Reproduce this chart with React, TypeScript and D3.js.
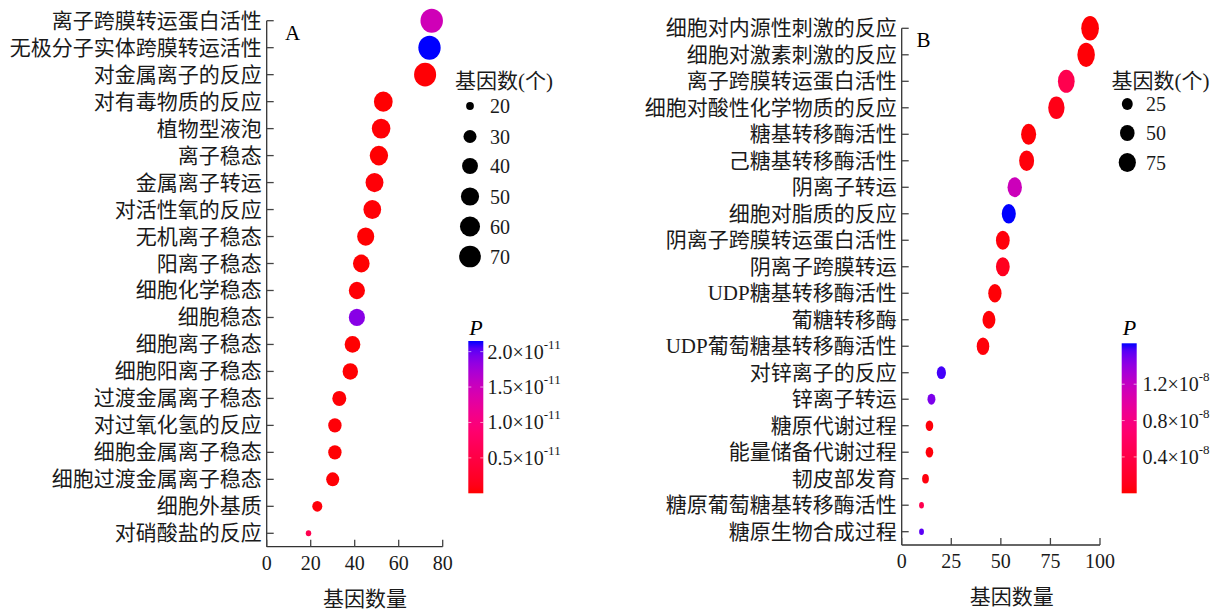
import React from 'react';
import * as d3 from 'd3';

// Panel A: GO terms, gene counts, P (x1e-11)
const termsA = [
  '离子跨膜转运蛋白活性', '无极分子实体跨膜转运活性', '对金属离子的反应', '对有毒物质的反应',
  '植物型液泡', '离子稳态', '金属离子转运', '对活性氧的反应', '无机离子稳态', '阳离子稳态',
  '细胞化学稳态', '细胞稳态', '细胞离子稳态', '细胞阳离子稳态', '过渡金属离子稳态',
  '对过氧化氢的反应', '细胞金属离子稳态', '细胞过渡金属离子稳态', '细胞外基质', '对硝酸盐的反应',
];
const countsA = [75, 74, 72, 53, 52, 51, 49, 48, 45, 43, 41, 41, 39, 38, 33, 31, 31, 30, 23, 19];
const pA = [1.47, 2.15, 0.02, 0.01, 0.02, 0.01, 0.03, 0.02, 0.01, 0.01, 0.02, 1.88, 0.01, 0.01, 0.02, 0.03, 0.01, 0.02, 0.04, 0.6];
const xTicksA = [0, 20, 40, 60, 80];
const sizeLegendA = [20, 30, 40, 50, 60, 70];
const pTicksA = [0.5, 1.0, 1.5, 2.0];

// Panel B: GO terms, gene counts, P (x1e-8)
const termsB = [
  '细胞对内源性刺激的反应', '细胞对激素刺激的反应', '离子跨膜转运蛋白活性', '细胞对酸性化学物质的反应',
  '糖基转移酶活性', '己糖基转移酶活性', '阴离子转运', '细胞对脂质的反应', '阴离子跨膜转运蛋白活性',
  '阴离子跨膜转运', 'UDP糖基转移酶活性', '葡糖转移酶', 'UDP葡萄糖基转移酶活性', '对锌离子的反应',
  '锌离子转运', '糖原代谢过程', '能量储备代谢过程', '韧皮部发育', '糖原葡萄糖基转移酶活性', '糖原生物合成过程',
];
const countsB = [95, 93, 83, 78, 64, 63, 57, 54, 51, 51, 47, 44, 41, 20, 15, 14, 14, 12, 10, 10];
const pB = [0.01, 0.02, 0.45, 0.08, 0.02, 0.03, 1.15, 1.65, 0.03, 0.12, 0.02, 0.02, 0.03, 1.6, 1.48, 0.03, 0.03, 0.04, 0.45, 1.56];
const xTicksB = [0, 25, 50, 75, 100];
const sizeLegendB = [25, 50, 75];
const pTicksB = [0.4, 0.8, 1.2];

const FONT = "'Liberation Serif', 'Noto Sans CJK SC', serif";
const colorInterp = d3.interpolateHcl('#ff0000', '#0000ff');

interface PanelProps {
  id: string;
  letter: string;
  terms: string[];
  counts: number[];
  pvals: number[];
  xMax: number;
  xTicks: number[];
  sizeTicks: number[];
  pTicks: number[];
  pDomain: [number, number];
  exponent: string;
  layout: {
    x0: number; x1: number; yTop: number; yBottom: number; axisY: number;
    titleX: number; letterX: number; letterY: number;
    dRange: [number, number]; aspect: number; legAspect: [number, number];
    legTitleX: number; legTitleY: number; legDotX: number; legLabelX: number; legY: number[];
    barX: number; barTop: number; barBottom: number; barLabelX: number; pY: number;
  };
}

const Panel: React.FC<PanelProps> = ({ id, letter, terms, counts, pvals, xMax, xTicks, sizeTicks, pTicks, pDomain, exponent, layout: L }) => {
  const x = d3.scaleLinear().domain([0, xMax]).range([L.x0, L.x1]);
  const y = d3.scalePoint<string>().domain(terms).range([L.yTop, L.yBottom]);
  const color = d3.scaleSequential(colorInterp).domain(pDomain);
  const norm = d3.scaleLinear().domain(d3.extent(counts) as [number, number]).range([0, 1]);
  const diam = (v: number) => L.dRange[0] + (L.dRange[1] - L.dRange[0]) * Math.sqrt(Math.max(0, norm(v)));
  const barY = d3.scaleLinear().domain(pDomain).range([L.barBottom, L.barTop]);
  const stops = d3.range(0, 1.0001, 0.05);

  return (
    <g>
      <defs>
        <linearGradient id={`grad-${id}`} x1="0" y1="1" x2="0" y2="0">
          {stops.map((t) => (
            <stop key={t} offset={t} stopColor={colorInterp(t)} />
          ))}
        </linearGradient>
      </defs>

      {/* y axis */}
      <line x1={L.x0} x2={L.x0} y1={L.yTop} y2={L.axisY} stroke="#333" strokeWidth={1.3} />
      {terms.map((t) => (
        <g key={t}>
          <line x1={L.x0} x2={L.x0 + 7} y1={y(t)} y2={y(t)} stroke="#444" strokeWidth={1.3} />
          <text x={L.x0 - 5} y={y(t)} textAnchor="end" dominantBaseline="central" fontSize={21} fill="#1a1a1a">{t}</text>
        </g>
      ))}

      {/* x axis */}
      <line x1={L.x0} x2={L.x1} y1={L.axisY} y2={L.axisY} stroke="#333" strokeWidth={1.3} />
      {xTicks.map((v) => (
        <g key={v}>
          <line x1={x(v)} x2={x(v)} y1={L.axisY} y2={L.axisY - 7} stroke="#444" strokeWidth={1.3} />
          <text x={x(v)} y={L.axisY + 16} textAnchor="middle" dominantBaseline="central" fontSize={20} fill="#1a1a1a">{v}</text>
        </g>
      ))}
      <text x={L.titleX} y={L.axisY + 52} textAnchor="middle" dominantBaseline="central" fontSize={21} fill="#1a1a1a">基因数量</text>

      <text x={L.letterX} y={L.letterY} dominantBaseline="central" fontSize={21} fill="#000">{letter}</text>

      {/* points */}
      {terms.map((t, i) => {
        const r = diam(counts[i]) / 2;
        return (
          <ellipse key={t} cx={x(counts[i])} cy={y(t)} rx={r} ry={r * L.aspect} fill={color(pvals[i])} />
        );
      })}

      {/* size legend */}
      <text x={L.legTitleX} y={L.legTitleY} dominantBaseline="central" fontSize={21} fill="#1a1a1a">基因数(个)</text>
      {sizeTicks.map((v, i) => {
        const r = diam(v) / 2;
        return (
          <g key={v}>
            <ellipse cx={L.legDotX} cy={L.legY[i]} rx={r * L.legAspect[0]} ry={r * L.legAspect[1]} fill="#000" />
            <text x={L.legLabelX} y={L.legY[i]} dominantBaseline="central" fontSize={20} fill="#1a1a1a">{v}</text>
          </g>
        );
      })}

      {/* colour bar */}
      <text x={L.barX + 1} y={L.pY} dominantBaseline="central" fontSize={22} fontStyle="italic" fill="#000">P</text>
      <rect x={L.barX} y={L.barTop} width={15} height={L.barBottom - L.barTop} fill={`url(#grad-${id})`} />
      {pTicks.map((v) => (
        <g key={v}>
          <line x1={L.barX} x2={L.barX + 3} y1={barY(v)} y2={barY(v)} stroke="#fff" strokeOpacity={0.6} />
          <line x1={L.barX + 12} x2={L.barX + 15} y1={barY(v)} y2={barY(v)} stroke="#fff" strokeOpacity={0.6} />
          <text x={L.barLabelX} y={barY(v)} dominantBaseline="central" fontSize={20} fill="#1a1a1a">
            {v.toFixed(1)}×10<tspan fontSize={13} dy={-8}>{exponent}</tspan>
          </text>
        </g>
      ))}
    </g>
  );
};

export default function App() {
  return (
    <svg width={1223} height={611} style={{ position: 'absolute', left: 0, top: 0, background: '#fff' }} fontFamily={FONT}>
      <rect width={1223} height={611} fill="#fff" />
      <Panel
        id="a" letter="A" terms={termsA} counts={countsA} pvals={pA} xMax={80} xTicks={xTicksA}
        sizeTicks={sizeLegendA} pTicks={pTicksA} pDomain={[0, 2.15]} exponent="-11"
        layout={{
          x0: 266.7, x1: 442.7, yTop: 20.7, yBottom: 533.3, axisY: 546.7,
          titleX: 365, letterX: 285, letterY: 33,
          dRange: [5.5, 22.5], aspect: 1.07, legAspect: [1, 1],
          legTitleX: 455, legTitleY: 81, legDotX: 470, legLabelX: 490,
          legY: [106, 136.5, 166, 196.5, 226.5, 256.5],
          barX: 468.3, barTop: 341, barBottom: 493.3, barLabelX: 487.5, pY: 327,
        }}
      />
      <Panel
        id="b" letter="B" terms={termsB} counts={countsB} pvals={pB} xMax={100} xTicks={xTicksB}
        sizeTicks={sizeLegendB} pTicks={pTicksB} pDomain={[0, 1.65]} exponent="-8"
        layout={{
          x0: 901.7, x1: 1100, yTop: 28.3, yBottom: 531.7, axisY: 545,
          titleX: 1011.7, letterX: 916.5, letterY: 40,
          dRange: [4.8, 17.7], aspect: 1.38, legAspect: [1.07, 1.17],
          legTitleX: 1111.5, legTitleY: 81, legDotX: 1127.3, legLabelX: 1146,
          legY: [104, 133, 162.5],
          barX: 1121.7, barTop: 343.3, barBottom: 493.3, barLabelX: 1142.5, pY: 327,
        }}
      />
    </svg>
  );
}
